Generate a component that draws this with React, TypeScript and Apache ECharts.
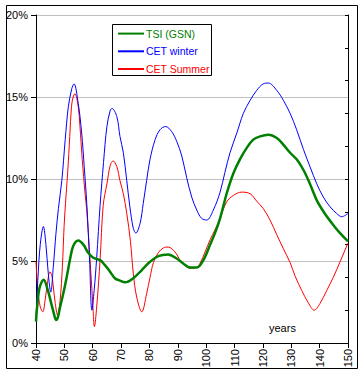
import React, { useEffect, useRef } from "react";
import * as echarts from "echarts";

const xTicks = [40, 50, 60, 70, 80, 90, 100, 110, 120, 130, 140, 150];

const winterYears = [40.0, 40.7, 41.5, 42.6, 43.5, 44.3, 45.2, 46.1, 47.05, 47.9, 49.1, 50.3, 51.4, 52.6, 53.4, 54.9, 56.1, 57.0, 57.9, 58.9, 59.7, 60.5, 61.4, 62.6, 63.8, 65.0, 66.2, 66.8, 68.5, 69.6, 70.8, 72.0, 73.1, 74.3, 75.2, 76.7, 77.8, 79.0, 80.2, 82.0, 83.7, 85.7, 87.8, 89.6, 91.4, 93.1, 94.9, 96.7, 98.4, 100.2, 102.5, 104.9, 106.6, 108.4, 110.8, 113.1, 115.5, 117.8, 120.1, 121.9, 124.9, 127.2, 129.6, 131.9, 134.3, 136.6, 139.0, 141.3, 143.7, 146.0, 147.8, 150.0];
const winterValues = [1.5, 4.0, 6.0, 7.1, 6.0, 4.3, 3.1, 4.65, 6.7, 8.2, 9.9, 12.4, 14.4, 15.5, 15.8, 14.6, 12.8, 10.75, 8.5, 5.0, 2.0, 3.2, 5.2, 8.4, 11.0, 13.2, 14.2, 14.3, 13.8, 12.6, 11.6, 9.9, 8.3, 7.0, 6.7, 7.3, 8.5, 9.9, 11.2, 12.4, 13.0, 13.2, 12.9, 12.3, 11.4, 10.1, 8.9, 8.1, 7.6, 7.5, 8.1, 9.2, 10.4, 11.6, 12.8, 14.0, 14.8, 15.4, 15.8, 15.85, 15.4, 14.8, 14.0, 13.0, 11.8, 10.75, 9.7, 8.9, 8.3, 7.9, 7.7, 7.9];

const summerYears = [40.0, 40.6, 41.5, 42.4, 43.2, 44.0, 44.9, 45.6, 46.0, 46.8, 47.6, 48.5, 49.3, 49.9, 50.4, 51.2, 51.9, 52.5, 53.1, 53.7, 54.9, 55.5, 56.3, 57.3, 57.9, 59.0, 60.0, 60.6, 61.4, 62.6, 63.7, 65.0, 66.2, 67.2, 68.5, 69.6, 70.8, 72.0, 73.3, 74.3, 75.5, 77.3, 79.0, 80.2, 81.4, 83.1, 84.9, 86.6, 89.0, 90.8, 92.5, 94.3, 96.4, 97.8, 99.6, 101.4, 103.1, 104.9, 107.2, 109.6, 112.5, 115.5, 117.8, 120.1, 122.5, 124.9, 127.2, 129.6, 131.3, 133.7, 136.0, 138.1, 140.1, 142.5, 144.8, 147.2, 150.0];
const summerValues = [5.0, 3.3, 2.2, 1.9, 2.6, 3.6, 4.35, 4.1, 3.6, 2.4, 1.7, 2.6, 4.65, 7.1, 8.5, 10.5, 12.6, 14.4, 15.0, 15.2, 14.4, 13.2, 11.2, 9.1, 8.1, 5.2, 2.5, 1.0, 2.2, 5.1, 8.4, 9.7, 10.85, 11.1, 10.75, 9.9, 9.1, 7.9, 6.2, 4.25, 2.8, 1.9, 3.0, 4.0, 4.9, 5.5, 5.8, 5.85, 5.55, 5.05, 4.75, 4.55, 4.6, 4.85, 5.55, 6.3, 6.9, 7.6, 8.6, 9.0, 9.2, 9.1, 8.65, 8.2, 7.5, 6.6, 5.75, 4.9, 4.1, 3.2, 2.45, 2.0, 2.4, 3.2, 4.0, 4.95, 6.1];

const tsiYears = [40.0, 40.4, 41.3, 42.7, 44.2, 45.4, 46.6, 47.0, 47.6, 48.5, 49.6, 50.8, 52.0, 53.1, 54.9, 56.7, 58.4, 60.2, 62.6, 64.3, 66.1, 67.8, 69.6, 71.4, 74.3, 77.3, 80.2, 83.1, 86.6, 89.6, 91.9, 94.3, 96.7, 99.0, 101.4, 103.1, 104.9, 107.2, 109.6, 111.9, 114.3, 116.6, 119.0, 121.9, 124.9, 127.2, 129.6, 131.9, 134.3, 136.6, 139.0, 141.8, 144.8, 147.2, 150.0];
const tsiValues = [1.3, 2.2, 3.4, 3.85, 3.2, 2.4, 1.6, 1.4, 1.5, 2.2, 3.0, 4.0, 5.1, 5.9, 6.25, 6.0, 5.5, 5.2, 5.05, 4.75, 4.35, 3.95, 3.8, 3.7, 3.95, 4.45, 4.95, 5.3, 5.4, 5.15, 4.85, 4.6, 4.6, 5.05, 6.0, 6.7, 7.6, 9.1, 10.35, 11.2, 11.9, 12.4, 12.6, 12.7, 12.5, 12.1, 11.6, 11.2, 10.55, 9.7, 8.7, 7.9, 7.2, 6.7, 6.2];

const seriesNames = ["TSI (GSN)", "CET winter", "CET Summer"];
const seriesColors = ["#008000", "#0000ff", "#ff0000"];

const zip = (xs: number[], ys: number[]) => xs.map((x, i) => [x, ys[i]]);

const FONT = "'Liberation Sans', Arial, sans-serif";

export default function App() {
  const ref = useRef<HTMLDivElement>(null);
  useEffect(() => {
    if (!ref.current) return;
    const chart = echarts.init(ref.current, null, { renderer: "svg" });
    chart.setOption({
      animation: false,
      backgroundColor: "#ffffff",
      textStyle: { fontFamily: FONT },
      grid: { left: 36, right: 15, top: 15, bottom: 33, containLabel: false },
      legend: {
        orient: "vertical",
        left: 117,
        top: 28,
        padding: 0,
        itemWidth: 26,
        itemHeight: 14,
        itemGap: 6.5,
        itemStyle: { opacity: 0, color: "transparent", borderWidth: 0 },
        data: seriesNames.map((n, i) => ({
          name: n,
          textStyle: { color: seriesColors[i] },
        })),
        textStyle: { fontSize: 10.5, fontFamily: FONT, padding: [0, 0, 0, -3] },
      },
      graphic: [
        {
          type: "rect",
          shape: { x: 6.5, y: 5.5, width: 351, height: 363 },
          style: { fill: "none", stroke: "#000", lineWidth: 1 },
          silent: true,
        },
        {
          type: "rect",
          shape: { x: 112.5, y: 24.5, width: 99, height: 51 },
          style: { fill: "none", stroke: "#000", lineWidth: 1 },
          silent: true,
        },
        {
          type: "text",
          x: 269,
          y: 322,
          style: { text: "years", fontSize: 11, fontFamily: FONT, fill: "#000" },
          silent: true,
        },
      ],
      xAxis: {
        type: "value",
        min: xTicks[0],
        max: xTicks[xTicks.length - 1],
        interval: 10,
        axisLine: { show: true, lineStyle: { color: "#000", width: 1 } },
        axisTick: { show: true, inside: false, length: 5, lineStyle: { color: "#000" } },
        axisLabel: {
          rotate: 90,
          margin: 6,
          fontSize: 11,
          color: "#000",
          fontFamily: FONT,
        },
        splitLine: { show: false },
      },
      yAxis: [
        {
          type: "value",
          min: 0,
          max: 20,
          interval: 5,
          position: "left",
          axisLine: { show: true, lineStyle: { color: "#000", width: 1 } },
          axisTick: { show: true, inside: false, length: 5, lineStyle: { color: "#000" } },
          axisLabel: {
            formatter: "{value}%",
            margin: 8,
            fontSize: 11,
            color: "#000",
            fontFamily: FONT,
          },
          splitLine: { show: true, lineStyle: { color: "#c0c0c0", width: 1 } },
        },
        {
          type: "value",
          min: 0,
          max: 20,
          interval: 2,
          position: "right",
          axisLine: { show: true, lineStyle: { color: "#000", width: 1 } },
          axisTick: { show: true, inside: true, length: 3, lineStyle: { color: "#000" } },
          axisLabel: { show: false },
          splitLine: { show: false },
        },
      ],
      series: [
        {
          name: seriesNames[2],
          type: "line",
          data: zip(summerYears, summerValues),
          smooth: 0.35,
          symbol: "none",
          lineStyle: { color: seriesColors[2], width: 1 },
          itemStyle: { color: seriesColors[2] },
          z: 2,
        },
        {
          name: seriesNames[1],
          type: "line",
          data: zip(winterYears, winterValues),
          smooth: 0.35,
          symbol: "none",
          lineStyle: { color: seriesColors[1], width: 1 },
          itemStyle: { color: seriesColors[1] },
          z: 3,
        },
        {
          name: seriesNames[0],
          type: "line",
          data: zip(tsiYears, tsiValues),
          smooth: 0.35,
          symbol: "none",
          lineStyle: { color: seriesColors[0], width: 2.5 },
          itemStyle: { color: seriesColors[0] },
          z: 4,
        },
      ],
    });
    return () => chart.dispose();
  }, []);
  return (
    <div
      ref={ref}
      style={{ position: "fixed", left: 0, top: 0, width: 363, height: 376 }}
    />
  );
}
